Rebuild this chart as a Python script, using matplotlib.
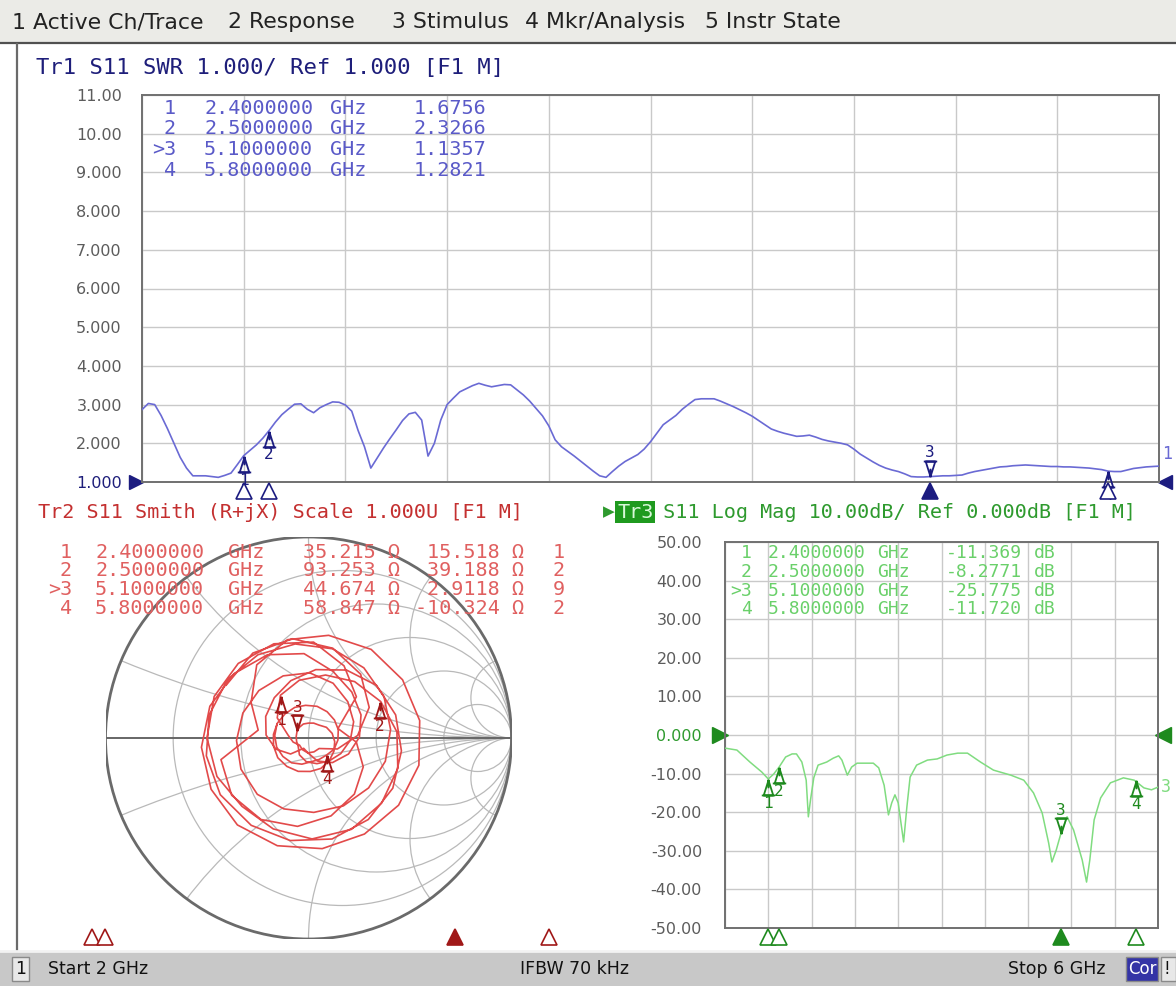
import numpy as np
import matplotlib
matplotlib.use("Agg")
import matplotlib.pyplot as plt
from matplotlib.path import Path
from matplotlib.patches import Rectangle, Circle
from matplotlib.lines import Line2D

# ---------------------------------------------------------------- data
f_start, f_stop = 2.0, 6.0

# Tr1 / Tr2 : S11 as SWR (161 sweep points)
swr_values = [
    2.87, 3.03, 3.00, 2.72, 2.38, 2.01, 1.64, 1.36, 1.16, 1.16,
    1.16, 1.14, 1.12, 1.17, 1.23, 1.45, 1.68, 1.82, 1.96, 2.13,
    2.33, 2.55, 2.74, 2.88, 3.01, 3.02, 2.88, 2.79, 2.92, 3.00,
    3.07, 3.06, 2.99, 2.83, 2.33, 1.91, 1.36, 1.62, 1.88, 2.12,
    2.35, 2.59, 2.76, 2.80, 2.60, 1.67, 2.00, 2.60, 3.00, 3.17,
    3.33, 3.41, 3.49, 3.55, 3.50, 3.46, 3.49, 3.52, 3.51, 3.38,
    3.25, 3.09, 2.90, 2.71, 2.45, 2.09, 1.91, 1.79, 1.67, 1.54,
    1.41, 1.28, 1.16, 1.12, 1.27, 1.41, 1.53, 1.62, 1.71, 1.85,
    2.04, 2.26, 2.48, 2.60, 2.72, 2.88, 3.01, 3.13, 3.15, 3.15,
    3.15, 3.09, 3.02, 2.95, 2.87, 2.79, 2.70, 2.59, 2.48, 2.37,
    2.31, 2.26, 2.22, 2.18, 2.19, 2.21, 2.16, 2.10, 2.06, 2.03,
    2.00, 1.96, 1.85, 1.72, 1.62, 1.52, 1.43, 1.36, 1.31, 1.27,
    1.21, 1.14, 1.13, 1.13, 1.14, 1.15, 1.16, 1.16, 1.17, 1.18,
    1.23, 1.27, 1.30, 1.33, 1.36, 1.39, 1.40, 1.42, 1.43, 1.44,
    1.43, 1.42, 1.41, 1.40, 1.40, 1.39, 1.39, 1.38, 1.37, 1.36,
    1.34, 1.32, 1.28, 1.27, 1.27, 1.31, 1.35, 1.37, 1.39, 1.40,
    1.41]

# estimated reflection phase (deg, unwrapped) for the Smith trace
smith_phase_deg = [
    507, 483, 459, 435, 411, 387, 363, 339, 315, 291,
    267, 243, 219, 195, 171, 147, 123, 99, 75, 51,
    27, 4, -19, -42, -65, -88, -111, -134, -157, -180,
    -204, -227, -250, -273, -296, -319, -342, -365, -388, -411,
    -434, -457, -480, -503, -526, -549, -572, -595, -618, -641,
    -665, -688, -711, -734, -757, -780, -803, -826, -849, -872,
    -895, -918, -941, -964, -987, -1010, -1033, -1056, -1079, -1102,
    -1126, -1149, -1172, -1195, -1218, -1241, -1264, -1287, -1310, -1333,
    -1356, -1379, -1402, -1425, -1448, -1471, -1494, -1517, -1540, -1563,
    -1587, -1610, -1633, -1656, -1679, -1702, -1725, -1748, -1771, -1794,
    -1817, -1840, -1863, -1886, -1909, -1932, -1955, -1978, -2001, -2024,
    -2048, -2071, -2094, -2117, -2140, -2163, -2186, -2209, -2232, -2255,
    -2278, -2301, -2324, -2347, -2370, -2390, -2410, -2430, -2449, -2469,
    -2489, -2509, -2528, -2548, -2568, -2588, -2607, -2627, -2647, -2667,
    -2687, -2706, -2726, -2746, -2766, -2785, -2805, -2825, -2845, -2864,
    -2884, -2904, -2924, -2944, -2964, -2984, -3004, -3024, -3044, -3064,
    -3084]

# Tr3 : S11 Log Mag
logmag_freq = [2.00, 2.11, 2.23, 2.34, 2.40, 2.45, 2.50, 2.56, 2.62, 2.66,
               2.71, 2.75, 2.77, 2.79, 2.82, 2.86, 2.94, 3.00, 3.05, 3.08,
               3.13, 3.17, 3.22, 3.37, 3.42, 3.47, 3.51, 3.54, 3.57, 3.60,
               3.65, 3.68, 3.71, 3.77, 3.87, 3.96, 4.05, 4.15, 4.24, 4.36,
               4.48, 4.64, 4.76, 4.85, 4.93, 4.99, 5.02, 5.06, 5.10, 5.16,
               5.22, 5.30, 5.34, 5.37, 5.41, 5.47, 5.56, 5.68, 5.78, 5.87,
               5.94, 6.00]
logmag_db = [-3.4, -3.9, -7.0, -9.6, -11.4, -10.1, -8.3, -5.7, -4.9, -4.9,
             -7.0, -11.7, -21.2, -16.8, -11.1, -7.8, -7.0, -6.0, -5.4, -6.5,
             -10.4, -8.3, -7.3, -7.3, -8.5, -13.0, -20.7, -17.6, -15.5, -17.6,
             -27.7, -18.7, -10.9, -7.8, -6.5, -6.2, -5.2, -4.7, -4.7, -7.0,
             -9.1, -10.4, -11.7, -15.0, -20.2, -28.0, -32.9, -29.8, -25.8, -21.2,
             -24.6, -32.4, -38.1, -32.4, -22.0, -16.3, -12.4, -11.1, -11.7, -13.7,
             -14.2, -13.5]

# marker readouts
mkr_ids = ["1", "2", "3", "4"]
mkr_freq = [2.4, 2.5, 5.1, 5.8]
mkr_swr = [1.6756, 2.3266, 1.1357, 1.2821]
mkr_R = [35.215, 93.253, 44.674, 58.847]
mkr_X = [15.518, 39.188, 2.9118, -10.324]
mkr_extra = ["1", "2", "9", "2"]
mkr_logmag = [-11.369, -8.2771, -25.775, -11.720]
active_idx = 2
z0 = 50.0

swr_ticks = [1, 2, 3, 4, 5, 6, 7, 8, 9, 10, 11]
swr_tick_labels = ["1.000", "2.000", "3.000", "4.000", "5.000", "6.000",
                   "7.000", "8.000", "9.000", "10.00", "11.00"]
lm_ticks = [-50, -40, -30, -20, -10, 0, 10, 20, 30, 40, 50]
lm_tick_labels = ["-50.00", "-40.00", "-30.00", "-20.00", "-10.00", "0.000",
                  "10.00", "20.00", "30.00", "40.00", "50.00"]
smith_r_grid = [0.2, 0.5, 1.0, 2.0, 5.0]
smith_x_grid = [0.2, 0.5, 1.0, 2.0, 5.0]

menu_items = ["1 Active Ch/Trace", "2 Response", "3 Stimulus",
              "4 Mkr/Analysis", "5 Instr State"]
title1 = "Tr1 S11 SWR 1.000/ Ref 1.000 [F1 M]"
title2 = "Tr2 S11 Smith (R+jX) Scale 1.000U [F1 M]"
title3 = " S11 Log Mag 10.00dB/ Ref 0.000dB [F1 M]"
status_left, status_mid, status_right = "Start 2 GHz", "IFBW 70 kHz", "Stop 6 GHz"

# ---------------------------------------------------------------- styles
MONO = "DejaVu Sans Mono"
SANS = "DejaVu Sans"
C_GRID = "#c9c9c9"
C_AX = "#707070"
C_TICK = "#5c5c5c"
C1_TITLE, C1_TRACE, C1_TABLE, C1_MK = "#1e1e7a", "#6a6ad4", "#5a5ac8", "#1c1c80"
C2_TITLE, C2_TRACE, C2_TABLE, C2_MK = "#c43030", "#e24a4a", "#e06060", "#a01818"
C3_TITLE, C3_TRACE, C3_TABLE, C3_MK = "#2e9a2e", "#80dc80", "#6ad06a", "#1e8a1e"

W, H = 1176, 986
fig = plt.figure(figsize=(W / 100, H / 100), dpi=100, facecolor="white")


def px_rect(l, t, r, b, **kw):
    fig.add_artist(Rectangle((l / W, 1 - b / H), (r - l) / W, (b - t) / H,
                             transform=fig.transFigure, **kw))


def px_line(x1, y1, x2, y2, **kw):
    fig.add_artist(Line2D([x1 / W, x2 / W], [1 - y1 / H, 1 - y2 / H],
                          transform=fig.transFigure, **kw))


def px_text(x, y, s, **kw):
    return fig.text(x / W, 1 - y / H, s, **kw)


def px_axes(l, t, r, b):
    return fig.add_axes([l / W, 1 - b / H, (r - l) / W, (b - t) / H])


# marker symbols (apex at the data point)
_codes = [Path.MOVETO, Path.LINETO, Path.MOVETO, Path.LINETO, Path.LINETO,
          Path.LINETO, Path.MOVETO, Path.LINETO]
_v = [(0, 0), (0, -0.55), (0, -0.05), (-0.3, -1), (0.3, -1), (0, -0.05),
      (-0.42, -1), (0.42, -1)]
MK_NORMAL = Path(_v, _codes)
MK_ACTIVE = Path([(x, -y) for x, y in _v], _codes)


def draw_marker(ax, x, y, num, active, color):
    ax.plot([x], [y], linestyle="none", marker=MK_ACTIVE if active else MK_NORMAL,
            ms=23, mfc="none", mec=color, mew=1.3, clip_on=False, zorder=6)
    dy = 17.5 if active else -17.5
    ax.annotate(num, xy=(x, y), xytext=(0, dy), textcoords="offset points",
                ha="center", va="center", color=color, fontsize=11.5, family=MONO,
                annotation_clip=False, zorder=6)


def stim_markers(ax, transform, yval, color):
    for i, f in enumerate(mkr_freq):
        act = i == active_idx
        ax.plot([f], [yval], transform=transform, linestyle="none", marker="^",
                ms=11, mfc=color if act else "white", mec=color, mew=1.2,
                clip_on=False, zorder=7)


def style_grid_axes(ax):
    ax.grid(True, color=C_GRID, lw=1.0)
    ax.set_axisbelow(True)
    for s in ax.spines.values():
        s.set_color(C_AX)
        s.set_linewidth(1.4)
    ax.tick_params(length=0)
    ax.tick_params(axis="x", labelbottom=False)


# ---------------------------------------------------------------- chrome
px_rect(0, 0, W, 42, fc="#ebebe7", ec="none", zorder=0)
px_line(0, 42.5, W, 42.5, color="#505050", lw=1.6)
menu_x = [12, 228, 392, 525, 705]
for x, s in zip(menu_x, menu_items):
    px_text(x, 22, s, fontsize=15.8, family=SANS, color="#222222", va="center")

px_line(17, 44, 17, 951, color="#6a6a6a", lw=1.6)

px_rect(0, 951, W, H, fc="#c8c8c8", ec="none", zorder=0)
px_line(0, 951, W, 951, color="#f2f2f2", lw=2)
px_rect(12, 957, 29, 981, fc="#e8e8e8", ec="#8a8a8a", lw=1)
px_text(20.5, 969, "1", fontsize=12.5, family=SANS, color="#111111", ha="center", va="center")
px_text(48, 969, status_left, fontsize=12.5, family=SANS, color="#111111", va="center")
px_text(575, 969, status_mid, fontsize=12.5, family=SANS, color="#111111", ha="center", va="center")
px_text(1106, 969, status_right, fontsize=12.5, family=SANS, color="#111111", ha="right", va="center")
px_rect(1126, 957, 1158, 981, fc="#3434a6", ec="#8a8a8a", lw=1)
px_text(1142, 969, "Cor", fontsize=12, family=SANS, color="white", ha="center", va="center")
px_rect(1161, 957, 1176, 981, fc="#e8e8e8", ec="#8a8a8a", lw=1)
px_text(1167, 969, "!", fontsize=12, family=SANS, color="#111111", ha="center", va="center")

# ---------------------------------------------------------------- Tr1 SWR
freq = np.linspace(f_start, f_stop, len(swr_values))
ax1 = px_axes(142, 95, 1159, 482)
ax1.set_xlim(f_start, f_stop)
ax1.set_ylim(swr_ticks[0], swr_ticks[-1])
ax1.set_xticks(np.linspace(f_start, f_stop, 11))
ax1.set_yticks(swr_ticks)
ax1.set_yticklabels(swr_tick_labels, fontsize=11.5, family=SANS, color=C_TICK)
style_grid_axes(ax1)
ax1.tick_params(axis="y", pad=14.5)
ax1.get_yticklabels()[0].set_color(C1_TITLE)
ax1.plot(freq, swr_values, color=C1_TRACE, lw=1.2, zorder=4)
ax1.plot([-0.006], [0], transform=ax1.transAxes, marker=">", ms=10, color=C1_MK, clip_on=False)
ax1.plot([1.006], [0], transform=ax1.transAxes, marker="<", ms=10, color=C1_MK, clip_on=False)
ax1.annotate("1", xy=(f_stop, swr_values[-1]), xytext=(2, 2), textcoords="offset points",
             color=C1_TRACE, fontsize=12, family=MONO, ha="left", va="bottom",
             annotation_clip=False)
for i in range(4):
    draw_marker(ax1, mkr_freq[i], mkr_swr[i], mkr_ids[i], i == active_idx, C1_MK)
stim_markers(ax1, ax1.get_xaxis_transform(), -0.024, C1_MK)

px_text(36, 68, title1, fontsize=16, family=MONO, color=C1_TITLE, va="center")
for i in range(4):
    y = 108 + i * 20.7
    tag = (">" if i == active_idx else "") + mkr_ids[i]
    px_text(176, y, tag, fontsize=14.5, family=MONO, color=C1_TABLE, ha="right", va="center")
    px_text(204, y, f"{mkr_freq[i]:.7f}", fontsize=14.5, family=MONO, color=C1_TABLE, va="center")
    px_text(330, y, "GHz", fontsize=14.5, family=MONO, color=C1_TABLE, va="center")
    px_text(486, y, f"{mkr_swr[i]:#.5g}", fontsize=14.5, family=MONO, color=C1_TABLE,
            ha="right", va="center")

# ---------------------------------------------------------------- Tr2 Smith
axs = px_axes(105.5, 537, 511.5, 939)
axs.set_xlim(-1, 1)
axs.set_ylim(-1, 1)
axs.axis("off")
clip = Circle((0, 0), 1, transform=axs.transData)
for r in smith_r_grid:
    c = Circle((r / (1 + r), 0), 1 / (1 + r), fill=False, ec="#b9b9b9", lw=0.9)
    axs.add_patch(c)
    c.set_clip_path(clip)
for xg in smith_x_grid:
    for sgn in (1, -1):
        c = Circle((1, sgn / xg), 1 / xg, fill=False, ec="#b9b9b9", lw=0.9)
        axs.add_patch(c)
        c.set_clip_path(clip)
axs.plot([-1, 1], [0, 0], color="#666666", lw=1.4, zorder=3)
axs.add_patch(Circle((0, 0), 1, fill=False, ec="#6a6a6a", lw=2.0, zorder=3))

s = np.array(swr_values)
mag = (s - 1) / (s + 1)
ph = np.deg2rad(np.array(smith_phase_deg))
axs.plot(mag * np.cos(ph), mag * np.sin(ph), color=C2_TRACE, lw=1.2, zorder=4)
for i in range(4):
    z = complex(mkr_R[i], mkr_X[i]) / z0
    g = (z - 1) / (z + 1)
    draw_marker(axs, g.real, g.imag, mkr_ids[i], i == active_idx, C2_MK)

axf = px_axes(38, 929, 576, 945)
axf.set_xlim(f_start, f_stop)
axf.set_ylim(0, 1)
axf.axis("off")
stim_markers(axf, axf.transData, 0.5, C2_MK)

px_text(38, 512, title2, fontsize=14.5, family=MONO, color=C2_TITLE, va="center")
for i in range(4):
    y = 552 + i * 18.7
    tag = (">" if i == active_idx else "") + mkr_ids[i]
    px_text(72, y, tag, fontsize=14.5, family=MONO, color=C2_TABLE, ha="right", va="center")
    px_text(95, y, f"{mkr_freq[i]:.7f}", fontsize=14.5, family=MONO, color=C2_TABLE, va="center")
    px_text(228, y, "GHz", fontsize=14.5, family=MONO, color=C2_TABLE, va="center")
    px_text(400, y, f"{mkr_R[i]:.5g} \u03a9", fontsize=14.5, family=MONO, color=C2_TABLE,
            ha="right", va="center")
    px_text(524, y, f"{mkr_X[i]:.5g} \u03a9", fontsize=14.5, family=MONO, color=C2_TABLE,
            ha="right", va="center")
    px_text(553, y, mkr_extra[i], fontsize=14.5, family=MONO, color=C2_TABLE, va="center")

# ---------------------------------------------------------------- Tr3 Log Mag
ax3 = px_axes(725, 542, 1158, 928)
ax3.set_xlim(f_start, f_stop)
ax3.set_ylim(lm_ticks[0], lm_ticks[-1])
ax3.set_xticks(np.linspace(f_start, f_stop, 11))
ax3.set_yticks(lm_ticks)
ax3.set_yticklabels(lm_tick_labels, fontsize=11.5, family=SANS, color=C_TICK)
style_grid_axes(ax3)
ax3.tick_params(axis="y", pad=16.5)
ax3.get_yticklabels()[lm_ticks.index(0)].set_color(C3_TITLE)
ax3.plot(logmag_freq, logmag_db, color=C3_TRACE, lw=1.1, zorder=4)
ax3.plot([-0.012], [0.5], transform=ax3.transAxes, marker=">", ms=12, color=C3_MK, clip_on=False)
ax3.plot([1.012], [0.5], transform=ax3.transAxes, marker="<", ms=12, color=C3_MK, clip_on=False)
ax3.annotate("3", xy=(f_stop, logmag_db[-1]), xytext=(2, 0), textcoords="offset points",
             color=C3_TRACE, fontsize=12, family=MONO, ha="left", va="center",
             annotation_clip=False)
for i in range(4):
    draw_marker(ax3, mkr_freq[i], mkr_logmag[i], mkr_ids[i], i == active_idx, C3_MK)
stim_markers(ax3, ax3.get_xaxis_transform(), -0.024, C3_MK)

px_text(603, 512, "\u25b6", fontsize=11, family=SANS, color=C3_TITLE, va="center")
px_text(617, 512, "Tr3", fontsize=14.5, family=MONO, color="#d8f8d8", va="center",
        bbox=dict(boxstyle="square,pad=0.08", fc="#1f9a1f", ec="none"))
px_text(651, 512, title3, fontsize=14.5, family=MONO, color=C3_TITLE, va="center")
for i in range(4):
    y = 553 + i * 18.8
    tag = (">" if i == active_idx else "") + mkr_ids[i]
    px_text(752, y, tag, fontsize=13, family=MONO, color=C3_TABLE, ha="right", va="center")
    px_text(768, y, f"{mkr_freq[i]:.7f}", fontsize=13, family=MONO, color=C3_TABLE, va="center")
    px_text(877, y, "GHz", fontsize=13, family=MONO, color=C3_TABLE, va="center")
    px_text(1022, y, f"{mkr_logmag[i]:#.5g}", fontsize=13, family=MONO, color=C3_TABLE,
            ha="right", va="center")
    px_text(1034, y, "dB", fontsize=13, family=MONO, color=C3_TABLE, va="center")

fig.savefig("out.png", dpi=100, facecolor="white")
